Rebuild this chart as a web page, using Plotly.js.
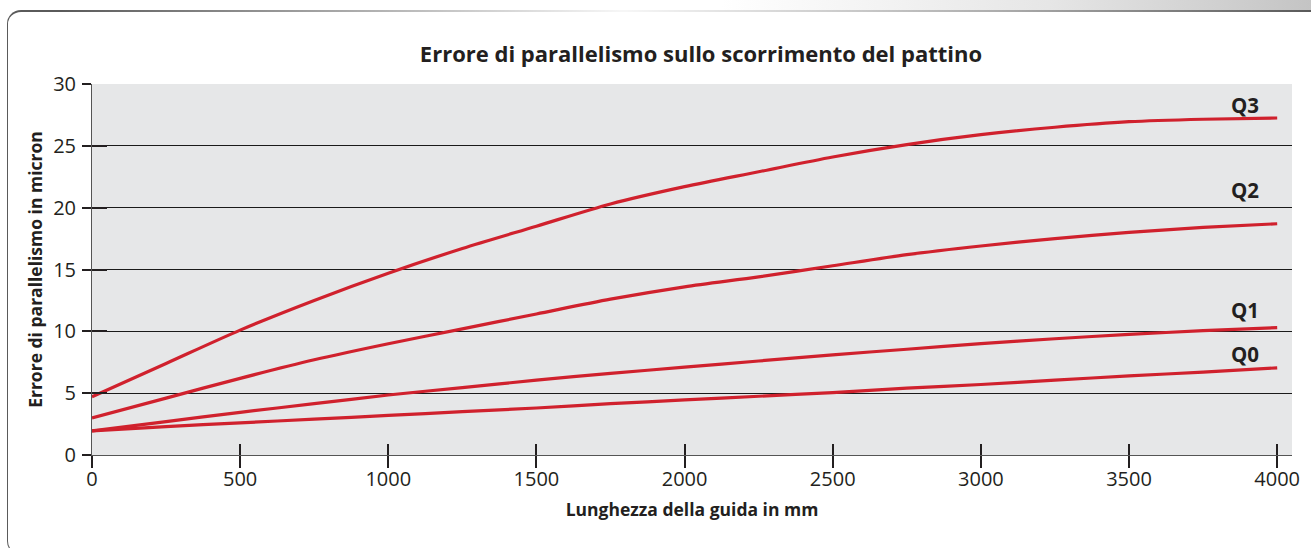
<!DOCTYPE html>
<html>
<head>
<meta charset="utf-8">
<script src="https://cdn.plot.ly/plotly-3.0.1.min.js"></script>
<style>
  html, body { margin:0; padding:0; background:#ffffff; width:1311px; height:548px; overflow:hidden; position:relative; }
  #band { position:absolute; left:0; top:0; width:1311px; height:10px;
          background:linear-gradient(to right, #ffffff 0%, #ffffff 55%, #e6e6e6 80%, #c4c4c4 100%); }
  #frame { position:absolute; left:7px; top:10px; width:1400px; height:545px;
           border-left:1.5px solid #5a5a5a; border-top:2px solid #5a5a5a; border-bottom:1.5px solid #5a5a5a;
           border-top-left-radius:14px; border-bottom-left-radius:14px; box-sizing:border-box; }
  #fade { position:absolute; left:60px; top:10px; width:1251px; height:2px;
          background:linear-gradient(to right, rgba(255,255,255,0) 0%, rgba(255,255,255,0.95) 45%, rgba(255,255,255,0.5) 75%, rgba(255,255,255,0) 100%); }
  #chart { position:absolute; left:0; top:0; width:1311px; height:548px; }
</style>
</head>
<body>
<div id="band"></div>
<div id="frame"></div>
<div id="fade"></div>
<div id="chart"></div>
<script>
// ---- data ----
const lengths = [0,250,500,750,1000,1250,1500,1750,2000,2250,2500,2750,3000,3250,3500,3750,4000];
const q3 = [4.7, 7.4, 10.1, 12.5, 14.7, 16.7, 18.5, 20.3, 21.7, 22.9, 24.1, 25.1, 25.9, 26.5, 26.95, 27.15, 27.25];
const q2 = [3.0, 4.6, 6.2, 7.7, 9.0, 10.2, 11.4, 12.6, 13.6, 14.4, 15.3, 16.2, 16.9, 17.5, 18.0, 18.4, 18.7];
const q1 = [1.95, 2.7, 3.45, 4.15, 4.85, 5.45, 6.05, 6.6, 7.1, 7.6, 8.1, 8.55, 9.0, 9.4, 9.75, 10.05, 10.3];
const q0 = [1.95, 2.3, 2.6, 2.9, 3.2, 3.5, 3.8, 4.15, 4.45, 4.75, 5.05, 5.4, 5.7, 6.05, 6.4, 6.7, 7.05];
const seriesNames = ['Q0','Q1','Q2','Q3'];
const labelX = [3890, 3890, 3890, 3890];
const labelY = [8.2, 11.7, 21.4, 28.3];
const xTicks = [0,500,1000,1500,2000,2500,3000,3500,4000];
const yTicks = [0,5,10,15,20,25,30];
const titleText = 'Errore di parallelismo sullo scorrimento del pattino';
const xTitle = 'Lunghezza della guida in mm';
const yTitle = 'Errore di parallelismo in micron';

const RED = '#d0212d';
const INK = '#231f20';
const FONT = 'Open Sans, Noto Sans, sans-serif';

const allSeries = [q0, q1, q2, q3];
const traces = allSeries.map((ys, i) => ({
  x: lengths, y: ys, type:'scatter', mode:'lines', name: seriesNames[i],
  line:{color:RED, width:3.2, shape:'spline', smoothing:0.8},
  showlegend:false, hoverinfo:'skip'
}));
// empty trace for overlay axes (crossing ticks)
traces.push({x:[], y:[], xaxis:'x2', yaxis:'y2', type:'scatter', mode:'lines', showlegend:false});

const annotations = seriesNames.map((n, i) => ({
  x: labelX[i], y: labelY[i], xref:'x', yref:'y', text:'<b>'+n+'</b>', showarrow:false,
  font:{family:FONT, size:20.5, color:INK}, xanchor:'center', yanchor:'middle'
}));

const layout = {
  width:1311, height:548,
  margin:{l:92, r:19, t:84, b:93},
  paper_bgcolor:'rgba(0,0,0,0)',
  plot_bgcolor:'#e6e7e8',
  showlegend:false,
  title:{text:'<b>'+titleText+'</b>', x:0.5075, xref:'paper', xanchor:'center',
         y:1-54/548, yref:'container', yanchor:'middle',
         font:{family:FONT, size:22, color:INK}},
  xaxis:{range:[0,4050], tickvals:xTicks, ticktext:xTicks.map(String),
         ticks:'outside', ticklen:12, tickwidth:2, tickcolor:INK,
         showgrid:false, zeroline:false, showline:true, linecolor:'#555555', linewidth:1,
         tickfont:{family:FONT, size:20, color:INK}, ticklabelstandoff:-6,
         title:{text:'<b>'+xTitle+'</b>', standoff:12, font:{family:FONT, size:17.5, color:INK}},
         fixedrange:true},
  yaxis:{range:[0,30], tickvals:yTicks, ticktext:yTicks.map(String),
         ticks:'outside', ticklen:9, tickwidth:2, tickcolor:INK,
         showgrid:true, gridcolor:'#1a1a1a', gridwidth:1,
         zeroline:false, showline:true, linecolor:'#555555', linewidth:1,
         tickfont:{family:FONT, size:20, color:INK}, ticklabelstandoff:2,
         title:{text:'<b>'+yTitle+'</b>', standoff:6, font:{family:FONT, size:17.5, color:INK}},
         fixedrange:true},
  xaxis2:{overlaying:'x', matches:'x', anchor:'y2', side:'bottom', tickvals:xTicks,
          ticks:'inside', ticklen:11, tickwidth:2, tickcolor:INK,
          showticklabels:false, showgrid:false, zeroline:false, showline:false},
  yaxis2:{overlaying:'y', matches:'y', anchor:'x2', side:'left', tickvals:yTicks,
          ticks:'inside', ticklen:15, tickwidth:2, tickcolor:INK,
          showticklabels:false, showgrid:false, zeroline:false, showline:false},
  annotations: annotations
};

Plotly.newPlot('chart', traces, layout, {displayModeBar:false, staticPlot:true});
</script>
</body>
</html>
